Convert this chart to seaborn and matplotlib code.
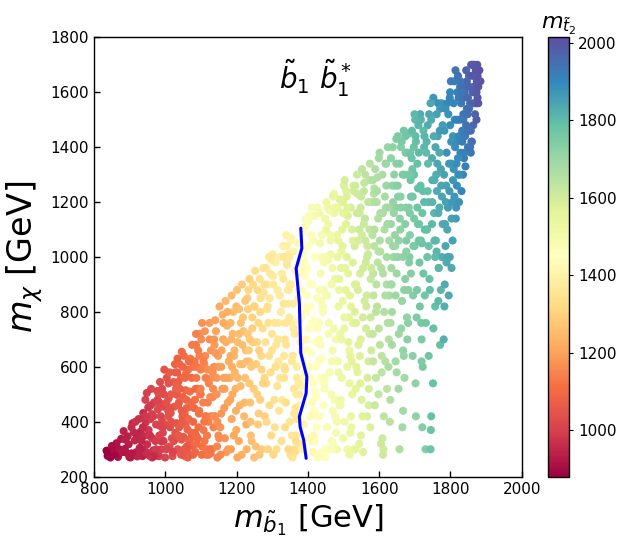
import pandas as pd
import seaborn as sns
import matplotlib
matplotlib.use("Agg")
import matplotlib.pyplot as plt
from matplotlib.colors import Normalize
from matplotlib.cm import ScalarMappable

# sbottom mass (x), neutralino mass (y), stop2 mass (colour) in 50 GeV bands
mb1 = [
    841, 867, 835, 853, 876, 859, 846, 871, 838, 863, 880, 850,
    897, 883, 921, 908, 890, 929, 914, 902, 886, 925, 911, 894, 918, 905, 928, 899, 888, 916,
    952, 934, 971, 945, 963, 938, 977, 956, 931, 968, 949, 974, 941, 960, 936, 979, 953, 966, 944, 958, 972, 939, 962, 948,
    1004, 987, 1022, 995, 1013, 982, 1027, 1009, 991, 1018, 999, 1030, 985, 1015, 1006, 993, 1025, 1011, 983, 1020, 1001, 989, 1016, 1028, 997, 1008, 1023, 986, 1012, 1003,
    1052, 1035, 1071, 1044, 1062, 1033, 1078, 1057, 1040, 1067, 1048, 1075, 1031, 1064, 1055, 1038, 1073, 1046, 1060, 1036, 1069, 1051, 1079, 1042, 1065, 1058, 1034, 1076, 1049, 1061, 1039, 1070, 1054, 1045,
    1101, 1084, 1122, 1093, 1112, 1081, 1127, 1106, 1089, 1117, 1097, 1130, 1086, 1114, 1103, 1091, 1124, 1109, 1083, 1119, 1099, 1088, 1115, 1128, 1095, 1107, 1121, 1085, 1111, 1102, 1126, 1092, 1118, 1098, 1110, 1082,
    1152, 1135, 1171, 1144, 1162, 1133, 1178, 1157, 1140, 1167, 1148, 1175, 1131, 1164, 1155, 1138, 1173, 1146, 1160, 1136, 1169, 1151, 1180, 1142, 1165, 1158, 1134, 1176, 1149, 1161, 1139, 1170, 1154, 1145,
    1201, 1184, 1222, 1193, 1212, 1181, 1227, 1206, 1189, 1217, 1197, 1230, 1186, 1214, 1203, 1191, 1224, 1209, 1183, 1219, 1199, 1188, 1215, 1228, 1195, 1207, 1221, 1185, 1211, 1202, 1226, 1192, 1218, 1198, 1210, 1182,
    1252, 1235, 1271, 1244, 1262, 1233, 1278, 1257, 1240, 1267, 1248, 1275, 1231, 1264, 1255, 1238, 1273, 1246, 1260, 1236, 1269, 1251, 1279, 1242, 1265, 1258, 1234, 1276, 1249, 1261, 1239, 1270, 1254, 1245, 1266, 1232,
    1301, 1284, 1322, 1293, 1312, 1281, 1327, 1306, 1289, 1317, 1297, 1330, 1286, 1314, 1303, 1291, 1324, 1309, 1283, 1319, 1299, 1288, 1315, 1328, 1295, 1307, 1321, 1285, 1311, 1302, 1326, 1292, 1318, 1298, 1310, 1282,
    1352, 1335, 1371, 1344, 1362, 1333, 1378, 1357, 1340, 1367, 1348, 1375, 1331, 1364, 1355, 1338, 1373, 1346, 1360, 1336, 1369, 1351, 1379, 1342, 1365, 1358, 1334, 1376, 1349, 1361, 1339, 1370, 1354, 1345, 1366, 1332,
    1401, 1384, 1422, 1393, 1412, 1381, 1427, 1406, 1389, 1417, 1397, 1430, 1386, 1414, 1403, 1391, 1424, 1409, 1383, 1419, 1399, 1388, 1415, 1428, 1395, 1407, 1421, 1385, 1411, 1402, 1426, 1392, 1418, 1398, 1410, 1382, 1420, 1394,
    1452, 1435, 1471, 1444, 1462, 1433, 1478, 1457, 1440, 1467, 1448, 1475, 1431, 1464, 1455, 1438, 1473, 1446, 1460, 1436, 1469, 1451, 1479, 1442, 1465, 1458, 1434, 1476, 1449, 1461, 1439, 1470, 1454, 1445, 1466, 1432, 1474, 1447,
    1501, 1484, 1522, 1493, 1512, 1481, 1527, 1506, 1489, 1517, 1497, 1530, 1486, 1514, 1503, 1491, 1524, 1509, 1483, 1519, 1499, 1488, 1515, 1528, 1495, 1507, 1521, 1485, 1511, 1502, 1526, 1492, 1518, 1498, 1510, 1482, 1520, 1494,
    1552, 1535, 1571, 1544, 1562, 1533, 1578, 1557, 1540, 1567, 1548, 1575, 1531, 1564, 1555, 1538, 1573, 1546, 1560, 1536, 1569, 1551, 1579, 1542, 1565, 1558, 1534, 1576, 1549, 1561, 1539, 1570, 1554, 1545, 1566, 1532, 1574, 1547,
    1601, 1584, 1622, 1593, 1612, 1581, 1627, 1606, 1589, 1617, 1597, 1630, 1586, 1614, 1603, 1591, 1624, 1609, 1583, 1619, 1599, 1588, 1615, 1628, 1595, 1607, 1621, 1585, 1611, 1602, 1626, 1592, 1618, 1598, 1610, 1582, 1620, 1594,
    1652, 1635, 1671, 1644, 1662, 1633, 1678, 1657, 1640, 1667, 1648, 1675, 1631, 1664, 1655, 1638, 1673, 1646, 1660, 1636, 1669, 1651, 1679, 1642, 1665, 1658, 1634, 1676, 1649, 1661, 1639, 1670, 1654, 1645, 1666, 1632, 1674, 1647,
    1701, 1684, 1722, 1693, 1712, 1681, 1727, 1706, 1689, 1717, 1697, 1730, 1686, 1714, 1703, 1691, 1724, 1709, 1683, 1719, 1699, 1688, 1715, 1728, 1695, 1707, 1721, 1685, 1711, 1702, 1726, 1692, 1718, 1698, 1710, 1682, 1720, 1694,
    1752, 1735, 1771, 1744, 1762, 1733, 1778, 1757, 1740, 1767, 1748, 1775, 1731, 1764, 1755, 1738, 1773, 1746, 1760, 1736, 1769, 1751, 1742, 1765, 1758, 1734, 1776, 1749, 1761, 1739, 1770, 1754, 1745, 1766,
    1801, 1784, 1822, 1793, 1812, 1781, 1827, 1806, 1789, 1817, 1797, 1830, 1786, 1814, 1803, 1791, 1824, 1809, 1783, 1819, 1799, 1788, 1815, 1828, 1795, 1807, 1821, 1785, 1811, 1802, 1826, 1792, 1818, 1798,
    1852, 1835, 1871, 1844, 1862, 1833, 1878, 1857, 1840, 1867, 1848, 1875, 1831, 1864, 1855, 1838, 1873, 1846, 1860, 1836, 1869, 1851, 1881, 1842, 1865, 1858, 1834, 1876, 1849, 1884,
    # second pass
    937, 959, 974, 946, 966, 933, 954, 978, 941, 963,
    987, 1009, 1024, 996, 1016, 983, 1003, 1028, 991, 1013,
    1037, 1059, 1074, 1046, 1066, 1033, 1053, 1078, 1041, 1063, 1049, 1071, 1036, 1057, 1044,
    1087, 1109, 1124, 1096, 1116, 1083, 1103, 1128, 1091, 1113, 1099, 1121, 1086, 1107, 1094,
    1137, 1174, 1146, 1166, 1133, 1141, 1163, 1149, 1171, 1136, 1157, 1144,
    1187, 1224, 1216, 1183, 1203, 1228, 1199, 1186, 1207, 1194,
    1237, 1259, 1274, 1266, 1278, 1241, 1263, 1249, 1236, 1244,
    1287, 1309, 1324, 1316, 1303, 1291, 1299, 1321, 1307, 1294,
    1337, 1359, 1374, 1346, 1366, 1333, 1353, 1378, 1341, 1363, 1349, 1371, 1336, 1357, 1344, 1369, 1352, 1376, 1339, 1361, 1332, 1373, 1348, 1367, 1355,
    1387, 1409, 1424, 1396, 1416, 1383, 1403, 1428, 1391, 1413, 1399, 1421, 1386, 1407, 1394, 1419, 1402, 1426, 1389, 1411, 1382, 1423, 1398, 1417, 1405,
    1437, 1459, 1474, 1446, 1466, 1433, 1453, 1478, 1441, 1463, 1449, 1471, 1436, 1457, 1444, 1469, 1452, 1476, 1439, 1461, 1432, 1473, 1448, 1467, 1455,
    1487, 1509, 1524, 1496, 1516, 1483, 1503, 1528, 1491, 1513, 1499, 1521, 1486, 1507, 1494, 1519, 1502, 1526, 1489, 1511, 1482, 1523, 1498, 1517, 1505,
    1537, 1559, 1574, 1546, 1566, 1533, 1553, 1578, 1541, 1563, 1549, 1571, 1536, 1557, 1544, 1569, 1552, 1576, 1539, 1561, 1532, 1573, 1548, 1567, 1555,
    1587, 1609, 1624, 1596, 1616, 1583, 1603, 1628, 1591, 1613, 1599, 1621, 1586, 1607, 1594, 1619, 1602, 1626, 1589, 1611, 1582, 1623, 1598, 1617, 1605,
    1637, 1659, 1674, 1646, 1666, 1633, 1653, 1678, 1641, 1663, 1649, 1671, 1636, 1657, 1644, 1669, 1652, 1676, 1639, 1661, 1632, 1673, 1648, 1667, 1655,
    1687, 1709, 1724, 1696, 1716, 1683, 1703, 1728, 1691, 1713, 1699, 1721, 1686, 1707, 1694, 1719, 1702, 1726, 1689, 1711, 1682, 1723, 1698, 1717, 1705,
    1737, 1759, 1774, 1746, 1766, 1733, 1753, 1778, 1741, 1763, 1749, 1771, 1736, 1757, 1744, 1769, 1752, 1776, 1739, 1761, 1732, 1773, 1748, 1767, 1755,
    1787, 1809, 1824, 1796, 1816, 1783, 1803, 1828, 1791, 1813, 1799, 1821, 1786, 1807, 1794, 1819, 1802, 1826, 1789, 1811, 1782, 1823, 1798, 1817, 1805,
    1837, 1859, 1874, 1846, 1866, 1833, 1853, 1878, 1841, 1863, 1849, 1871, 1836, 1857, 1844, 1869, 1852, 1876, 1839, 1861, 1832, 1873, 1848, 1867, 1855,
    # dense red corner
    905, 918, 931, 944, 957, 969, 982, 995, 1008, 1021, 1034, 1047, 1060, 1073, 1086, 1099, 1112, 1125, 992, 1055,
]
mchi = [
    283, 272, 295, 305, 338, 281, 270, 300, 276, 322, 290, 312,
    318, 366, 274, 395, 288, 350, 332, 270, 301, 410, 362, 347, 289, 380, 305, 272, 335, 400,
    452, 300, 284, 398, 340, 432, 512, 276, 365, 470, 318, 390, 286, 520, 275, 445, 370, 296, 480, 410, 330, 348, 428, 505,
    560, 330, 290, 455, 380, 275, 610, 485, 402, 340, 270, 520, 545, 432, 305, 360, 455, 580, 470, 275, 390, 300, 500, 360, 590, 420, 545, 385, 310, 470,
    640, 300, 455, 560, 372, 498, 280, 515, 610, 330, 420, 680, 395, 590, 275, 470, 360, 655, 450, 545, 510, 345, 600, 290, 410, 575, 630, 310, 490, 290, 380, 630, 430, 335,
    700, 290, 540, 380, 640, 450, 285, 470, 600, 350, 720, 560, 680, 420, 310, 520, 760, 610, 360, 470, 590, 320, 280, 660, 440, 370, 400, 520, 730, 280, 490, 660, 590, 500, 330, 620,
    820, 380, 290, 560, 700, 490, 620, 430, 770, 340, 640, 470, 300, 560, 280, 680, 750, 400, 520, 600, 840, 340, 560, 730, 450, 660, 520, 300, 600, 790, 420, 690, 380, 310,
    880, 300, 470, 640, 760, 560, 390, 330, 720, 610, 520, 850, 410, 280, 690, 800, 560, 460, 640, 730, 370, 500, 900, 300, 580, 810, 420, 700, 530, 270, 660, 350, 780, 440, 610, 480,
    950, 620, 300, 780, 430, 880, 560, 690, 350, 850, 520, 960, 720, 280, 610, 470, 740, 900, 390, 540, 640, 820, 420, 330, 920, 500, 660, 870, 270, 760, 400, 590, 310, 690, 480, 810,
    1010, 400, 560, 850, 300, 690, 940, 480, 760, 620, 350, 1040, 900, 530, 280, 640, 800, 980, 540, 440, 720, 300, 880, 480, 580, 380, 1000, 810, 680, 930, 330, 460, 760, 990, 600, 960,
    1060, 700, 420, 880, 300, 560, 980, 640, 1040, 350, 780, 500, 920, 290, 620, 470, 850, 1010, 740, 380, 560, 280, 690, 970, 450, 830, 600, 320, 900, 520, 1080, 410, 760, 300, 950, 830,
    1130, 300, 690, 930, 470, 780, 1180, 560, 1020, 350, 860, 620, 1090, 290, 740, 980, 420, 650, 530, 1150, 820, 390, 1060, 280, 700, 900, 510, 1000, 330, 600, 850, 1110, 440, 960, 760, 660, 330, 580,
    1200, 560, 320, 880, 1080, 420, 700, 990, 290, 620, 1140, 480, 760, 1010, 380, 840, 1230, 560, 300, 940, 660, 1100, 360, 800, 500, 720, 1050, 920, 270, 1170, 630, 440, 860, 980, 330, 700, 1160, 520,
    1260, 620, 380, 960, 1150, 300, 760, 880, 1210, 540, 1040, 300, 820, 690, 1280, 460, 1100, 1000, 1180, 640, 340, 920, 780, 1240, 560, 1120, 420, 1060, 300, 740, 980, 480, 860, 1200, 600, 400, 1180, 700,
    1320, 760, 460, 1100, 980, 300, 660, 1240, 880, 560, 1180, 380, 1040, 820, 290, 1300, 720, 940, 1140, 600, 1010, 480, 1200, 680, 860, 1270, 520, 920, 350, 1060, 1230, 620, 780, 1160, 420, 900, 1340, 540,
    1380, 860, 520, 1200, 300, 1080, 700, 960, 1320, 620, 1140, 400, 1250, 800, 1020, 560, 1400, 340, 940, 1180, 740, 460, 1100, 860, 1290, 640, 1000, 1230, 280, 1060, 600, 900, 1340, 500, 1160, 720, 1260, 820,
    1440, 900, 560, 1260, 740, 1120, 1380, 300, 1000, 660, 1340, 1180, 480, 840, 1060, 1400, 920, 620, 1220, 800, 1460, 1000, 700, 1300, 380, 1140, 960, 1060, 580, 1400, 1200, 880, 520, 1040, 1300, 760, 1440, 1180,
    1500, 980, 600, 1320, 1120, 760, 1440, 880, 1220, 1060, 1400, 300, 1160, 820, 420, 1360, 940, 1250, 1450, 700, 1040, 1280, 1520, 1100, 860, 1180, 380, 1000, 1380, 540, 1200, 1460, 760, 1300, 1480, 880, 1050, 640,
    1580, 1000, 680, 300, 1240, 1420, 1120, 820, 1520, 960, 1360, 1560, 760, 1440, 1060, 1200, 880, 420, 1300, 1480, 1180, 540, 880, 1560, 1400, 1100, 1000, 1280, 1020, 640, 1460, 1160, 370, 840,
    1640, 900, 1300, 1180, 1500, 700, 1620, 1060, 1380, 1420, 1240, 1560, 1040, 1680, 960, 1560, 1200, 1320, 820, 1600, 1480, 1260, 1140, 1380, 860, 1440, 1660, 1120, 1220, 1340, 1500, 1000, 1260, 1580,
    1660, 1300, 1560, 1480, 1700, 1420, 1620, 1380, 1600, 1660, 1520, 1700, 1240, 1480, 1560, 1360, 1500, 1640, 1420, 1520, 1600, 1460, 1680, 1330, 1560, 1700, 1620, 1580, 1400, 1640,
    # second pass
    380, 460, 300, 290, 420, 330, 350, 480, 410, 270,
    420, 540, 330, 500, 400, 350, 300, 580, 520, 450,
    350, 480, 560, 440, 620, 580, 300, 400, 520, 270, 600, 340, 460, 390, 280,
    560, 400, 700, 640, 300, 480, 760, 420, 340, 560, 500, 280, 720, 620, 430,
    700, 800, 270, 520, 580, 650, 760, 350, 560, 420, 600, 500,
    600, 840, 680, 760, 560, 620, 820, 860, 720, 660,
    700, 880, 540, 800, 900, 600, 660, 820, 920, 740,
    820, 600, 1000, 700, 900, 1000, 660, 860, 760, 940,
    760, 1020, 540, 880, 330, 640, 1070, 460, 980, 720, 400, 940, 590, 270, 830, 600, 900, 770, 680, 430, 1000, 1050, 1000, 500, 350,
    620, 1080, 380, 800, 540, 950, 1150, 270, 700, 900, 1040, 600, 460, 820, 1140, 1000, 340, 740, 560, 1180, 880, 490, 660, 770, 420,
    1000, 760, 1180, 540, 900, 1160, 380, 620, 820, 1060, 300, 1220, 680, 1120, 460, 960, 860, 420, 1080, 580, 880, 740, 1000, 300, 1180,
    880, 1220, 500, 1100, 660, 1000, 400, 1260, 720, 940, 1160, 820, 580, 1240, 1020, 360, 780, 1060, 460, 1180, 1080, 620, 840, 280, 960,
    1160, 840, 1280, 640, 1000, 1260, 420, 960, 1060, 740, 1220, 520, 900, 1120, 320, 1200, 1080, 780, 580, 1300, 800, 1100, 700, 1040, 960,
    1100, 1300, 760, 980, 1220, 620, 1160, 1060, 800, 420, 1360, 900, 1040, 580, 1240, 1340, 680, 1180, 1200, 940, 1280, 1120, 1020, 860, 320,
    1260, 1100, 1380, 860, 1000, 1360, 1220, 780, 1160, 1420, 940, 1300, 680, 1340, 1080, 640, 1260, 1020, 1040, 1180, 900, 1120, 1430, 440, 720,
    1380, 1120, 1460, 1040, 1260, 1180, 1420, 860, 1300, 980, 1520, 1160, 1080, 1340, 1220, 620, 1440, 1400, 940, 1060, 1300, 1240, 1140, 1500, 780,
    1340, 1060, 1260, 1500, 1160, 1100, 1440, 1480, 920, 1340, 1200, 1540, 1240, 1000, 1560, 1380, 740, 1220, 1040, 1520, 1380, 1320, 1120, 960, 1280,
    1200, 1560, 1440, 1340, 1180, 1460, 1140, 1640, 1100, 1400, 1600, 1360, 1540, 1280, 1520, 1500, 1420, 1300, 980, 1640, 1300, 1580, 1000, 1340, 1200,
    1580, 1420, 1640, 1540, 1620, 1460, 1620, 1560, 1440, 1600, 1580, 1680, 1500, 1460, 1680, 1520, 1540, 1660, 1380, 1660, 1600, 1600, 1460, 1700, 1400,
    # dense red corner
    285, 355, 300, 420, 350, 275, 500, 330, 440, 290, 520, 400, 310, 470, 350, 520, 420, 300, 380, 560,
]
mst2 = [
    890, 912, 884, 903, 925, 897, 889, 916, 880, 914, 921, 905,
    935, 938, 947, 962, 918, 968, 952, 932, 920, 975, 958, 940, 944, 961, 949, 926, 934, 971,
    985, 952, 990, 975, 992, 965, 1025, 958, 950, 1010, 966, 1006, 948, 1015, 944, 1019, 980, 975, 1001, 992, 987, 960, 1003, 998,
    1045, 1000, 1030, 1025, 1035, 990, 1080, 1050, 1020, 1040, 1005, 1070, 1030, 1055, 1022, 1012, 1058, 1068, 1020, 1028, 1032, 998, 1060, 1048, 1050, 1045, 1072, 1010, 1030, 1040,
    1105, 1045, 1090, 1090, 1080, 1060, 1085, 1095, 1085, 1075, 1070, 1130, 1050, 1112, 1060, 1065, 1093, 1098, 1088, 1070, 1110, 1065, 1120, 1048, 1095, 1100, 1080, 1085, 1078, 1062, 1058, 1124, 1082, 1060,
    1160, 1088, 1150, 1110, 1160, 1100, 1120, 1140, 1125, 1135, 1165, 1170, 1130, 1138, 1115, 1122, 1190, 1160, 1095, 1145, 1140, 1098, 1125, 1180, 1118, 1128, 1142, 1105, 1175, 1110, 1158, 1135, 1162, 1130, 1128, 1120,
    1215, 1150, 1190, 1180, 1210, 1160, 1220, 1180, 1200, 1175, 1195, 1210, 1140, 1200, 1160, 1190, 1232, 1165, 1185, 1170, 1240, 1168, 1215, 1205, 1190, 1208, 1160, 1188, 1178, 1228, 1162, 1225, 1176, 1152,
    1270, 1195, 1245, 1240, 1262, 1225, 1230, 1215, 1240, 1255, 1232, 1290, 1212, 1225, 1250, 1260, 1262, 1238, 1220, 1268, 1220, 1218, 1290, 1235, 1235, 1265, 1250, 1240, 1250, 1210, 1268, 1212, 1275, 1230, 1248, 1205,
    1330, 1280, 1290, 1310, 1295, 1315, 1315, 1315, 1268, 1340, 1290, 1355, 1285, 1275, 1300, 1270, 1335, 1320, 1290, 1275, 1320, 1320, 1300, 1262, 1345, 1300, 1288, 1352, 1262, 1322, 1265, 1310, 1270, 1298, 1300, 1300,
    1385, 1320, 1360, 1365, 1330, 1345, 1385, 1345, 1340, 1368, 1325, 1400, 1370, 1350, 1318, 1338, 1378, 1392, 1325, 1352, 1352, 1310, 1375, 1365, 1335, 1340, 1398, 1348, 1362, 1378, 1345, 1330, 1372, 1380, 1360, 1360,
    1410, 1345, 1365, 1370, 1330, 1345, 1410, 1360, 1390, 1355, 1370, 1370, 1365, 1335, 1365, 1335, 1395, 1385, 1370, 1330, 1375, 1338, 1390, 1380, 1355, 1385, 1345, 1360, 1380, 1355, 1400, 1350, 1380, 1320, 1400, 1355,
    1475, 1395, 1445, 1450, 1430, 1430, 1495, 1440, 1450, 1425, 1450, 1455, 1455, 1420, 1445, 1460, 1440, 1445, 1405, 1490, 1450, 1405, 1475, 1430, 1420, 1455, 1445, 1445, 1420, 1430, 1470, 1470, 1440, 1445, 1450, 1420, 1435, 1425,
    1525, 1455, 1475, 1490, 1505, 1460, 1500, 1505, 1460, 1495, 1520, 1490, 1470, 1515, 1470, 1475, 1535, 1480, 1470, 1490, 1500, 1525, 1490, 1480, 1485, 1495, 1500, 1530, 1460, 1515, 1460, 1485, 1495, 1495, 1480, 1470, 1530, 1470,
    1580, 1520, 1535, 1560, 1580, 1500, 1560, 1560, 1570, 1545, 1565, 1540, 1535, 1555, 1590, 1510, 1585, 1570, 1545, 1550, 1515, 1540, 1555, 1595, 1525, 1570, 1540, 1550, 1520, 1535, 1580, 1510, 1560, 1570, 1535, 1505, 1590, 1525,
    1635, 1575, 1585, 1610, 1605, 1550, 1600, 1625, 1590, 1590, 1610, 1580, 1595, 1600, 1575, 1615, 1605, 1590, 1630, 1565, 1615, 1575, 1645, 1575, 1605, 1625, 1560, 1620, 1565, 1615, 1610, 1595, 1595, 1610, 1580, 1575, 1650, 1570,
    1690, 1625, 1640, 1665, 1605, 1650, 1660, 1660, 1665, 1655, 1660, 1650, 1655, 1660, 1655, 1625, 1705, 1610, 1630, 1685, 1640, 1620, 1665, 1680, 1665, 1640, 1685, 1650, 1615, 1665, 1665, 1645, 1690, 1630, 1675, 1625, 1700, 1640,
    1750, 1680, 1690, 1725, 1705, 1700, 1755, 1665, 1695, 1710, 1730, 1735, 1660, 1705, 1715, 1715, 1725, 1685, 1730, 1680, 1765, 1710, 1730, 1720, 1690, 1725, 1690, 1745, 1685, 1740, 1710, 1725, 1690, 1695, 1750, 1665, 1770, 1715,
    1805, 1735, 1755, 1775, 1770, 1730, 1815, 1750, 1760, 1775, 1780, 1740, 1745, 1760, 1720, 1780, 1775, 1790, 1770, 1750, 1760, 1775, 1830, 1795, 1740, 1775, 1735, 1740, 1800, 1720, 1800, 1795, 1755, 1785, 1810, 1725, 1780, 1730,
    1870, 1780, 1790, 1775, 1830, 1815, 1830, 1790, 1840, 1800, 1830, 1870, 1760, 1850, 1805, 1800, 1810, 1785, 1830, 1830, 1825, 1785, 1790, 1880, 1840, 1780, 1830, 1820, 1810, 1770, 1860, 1810, 1780, 1805,
    1920, 1830, 1885, 1860, 1900, 1820, 1935, 1850, 1880, 1895, 1860, 1930, 1840, 1940, 1835, 1900, 1880, 1875, 1825, 1925, 1890, 1855, 1860, 1910, 1835, 1880, 1945, 1840, 1870, 1880, 1920, 1845, 1885, 1905,
    1975, 1910, 1990, 1945, 1990, 1920, 2000, 1935, 1955, 1990, 1950, 2005, 1905, 1960, 1965, 1925, 1985, 1965, 1945, 1940, 1985, 1950, 2010, 1920, 1970, 1985, 1950, 1995, 1935, 2005,
    # second pass
    962, 990, 990, 965, 998, 955, 975, 1010, 972, 970,
    1015, 1045, 1035, 1030, 1040, 1005, 1010, 1065, 1025, 1040,
    1060, 1085, 1100, 1070, 1105, 1070, 1060, 1090, 1075, 1070, 1090, 1080, 1065, 1080, 1055,
    1120, 1120, 1165, 1140, 1120, 1110, 1170, 1140, 1100, 1140, 1125, 1125, 1145, 1140, 1115,
    1185, 1225, 1150, 1195, 1170, 1185, 1215, 1160, 1205, 1160, 1195, 1175,
    1225, 1275, 1255, 1235, 1240, 1260, 1260, 1250, 1255, 1235,
    1285, 1320, 1310, 1320, 1340, 1285, 1305, 1310, 1305, 1300,
    1340, 1345, 1390, 1360, 1370, 1365, 1345, 1375, 1355, 1365,
    1355, 1400, 1380, 1375, 1340, 1365, 1410, 1380, 1370, 1370, 1350, 1400, 1345, 1350, 1365, 1385, 1375, 1410, 1350, 1370, 1360, 1420, 1370, 1385, 1360,
    1430, 1465, 1445, 1440, 1440, 1440, 1480, 1430, 1425, 1455, 1455, 1450, 1415, 1445, 1470, 1465, 1420, 1460, 1420, 1485, 1435, 1450, 1430, 1455, 1430,
    1480, 1490, 1525, 1470, 1505, 1500, 1470, 1495, 1475, 1515, 1460, 1540, 1470, 1515, 1465, 1510, 1495, 1490, 1490, 1485, 1475, 1500, 1490, 1475, 1515,
    1530, 1575, 1545, 1555, 1545, 1540, 1520, 1590, 1525, 1555, 1560, 1560, 1515, 1575, 1545, 1535, 1540, 1575, 1510, 1570, 1530, 1555, 1535, 1530, 1550,
    1610, 1600, 1640, 1575, 1615, 1605, 1570, 1610, 1590, 1595, 1620, 1590, 1580, 1615, 1560, 1635, 1600, 1615, 1565, 1640, 1575, 1625, 1575, 1615, 1600,
    1650, 1675, 1660, 1645, 1680, 1625, 1665, 1680, 1640, 1640, 1685, 1665, 1640, 1640, 1670, 1700, 1640, 1690, 1660, 1660, 1660, 1685, 1650, 1665, 1615,
    1720, 1720, 1755, 1700, 1720, 1720, 1730, 1715, 1705, 1750, 1700, 1745, 1680, 1735, 1705, 1705, 1735, 1725, 1700, 1730, 1685, 1735, 1745, 1690, 1700,
    1770, 1770, 1800, 1750, 1785, 1740, 1790, 1770, 1770, 1765, 1805, 1780, 1735, 1790, 1760, 1745, 1795, 1810, 1735, 1770, 1750, 1790, 1755, 1815, 1745,
    1800, 1810, 1845, 1830, 1825, 1785, 1830, 1860, 1785, 1840, 1810, 1870, 1790, 1800, 1840, 1835, 1790, 1845, 1780, 1855, 1800, 1845, 1805, 1810, 1825,
    1850, 1905, 1905, 1870, 1870, 1870, 1855, 1940, 1840, 1890, 1900, 1890, 1880, 1870, 1880, 1915, 1880, 1890, 1835, 1925, 1850, 1925, 1840, 1890, 1865,
    1945, 1950, 2000, 1945, 1985, 1925, 1970, 2000, 1925, 1980, 1960, 2005, 1930, 1950, 1975, 1975, 1955, 2005, 1915, 1990, 1935, 1995, 1940, 2000, 1940,
    # dense red corner
    925, 950, 945, 985, 975, 960, 1030, 990, 1040, 1010, 1080, 1070, 1055, 1100, 1095, 1140, 1130, 1115, 1010, 1095,
]

# blue contour
line_mb1 = [1395, 1388, 1378, 1376, 1395, 1397, 1380, 1376, 1367, 1383, 1380]
line_mchi = [267, 334, 382, 419, 504, 564, 650, 832, 959, 1032, 1105]

if not (len(mb1) == len(mchi) == len(mst2)):
    raise ValueError(f"lengths {len(mb1)} {len(mchi)} {len(mst2)}")

df = pd.DataFrame({"mb1": mb1, "mchi": mchi, "mst2": mst2})

sns.set_style("white")
plt.rcParams["axes.edgecolor"] = "black"
plt.rcParams["axes.labelcolor"] = "black"
plt.rcParams["text.color"] = "black"
plt.rcParams["xtick.color"] = "black"
plt.rcParams["ytick.color"] = "black"

fig = plt.figure(figsize=(6.23, 5.54), dpi=100)
ax = fig.add_axes([0.151, 0.1395, 0.6865, 0.7931])
cax = fig.add_axes([0.8796, 0.139, 0.0337, 0.794])

norm = Normalize(880, 2015)
sns.scatterplot(data=df, x="mb1", y="mchi", hue="mst2", palette="Spectral",
                hue_norm=norm, s=34, linewidth=0, legend=False, ax=ax)
ax.plot(line_mb1, line_mchi, color="blue", lw=2.2)

ax.text(1420, 1652, r"$\tilde{b}_1\ \tilde{b}_1^*$", fontsize=20,
        ha="center", va="center")

ax.set_xlim(800, 2000)
ax.set_ylim(200, 1800)
ax.set_xticks(range(800, 2001, 200))
ax.set_yticks(range(200, 1801, 200))
ax.tick_params(direction="in", length=4, width=1, labelsize=11,
               bottom=True, left=True)
for sp in ax.spines.values():
    sp.set_linewidth(1)
ax.set_xlabel(r"$m_{\tilde{b}_1}$ [GeV]", fontsize=22)
ax.set_ylabel(r"$m_\chi$ [GeV]", fontsize=24)

cb = fig.colorbar(ScalarMappable(norm=norm, cmap="Spectral"), cax=cax)
cb.set_ticks([1000, 1200, 1400, 1600, 1800, 2000])
cb.ax.tick_params(labelsize=11, length=3)
cb.outline.set_linewidth(1)
cb.ax.set_title(r"$m_{\tilde{t}_2}$", fontsize=16)

fig.savefig("out.png", dpi=100)
